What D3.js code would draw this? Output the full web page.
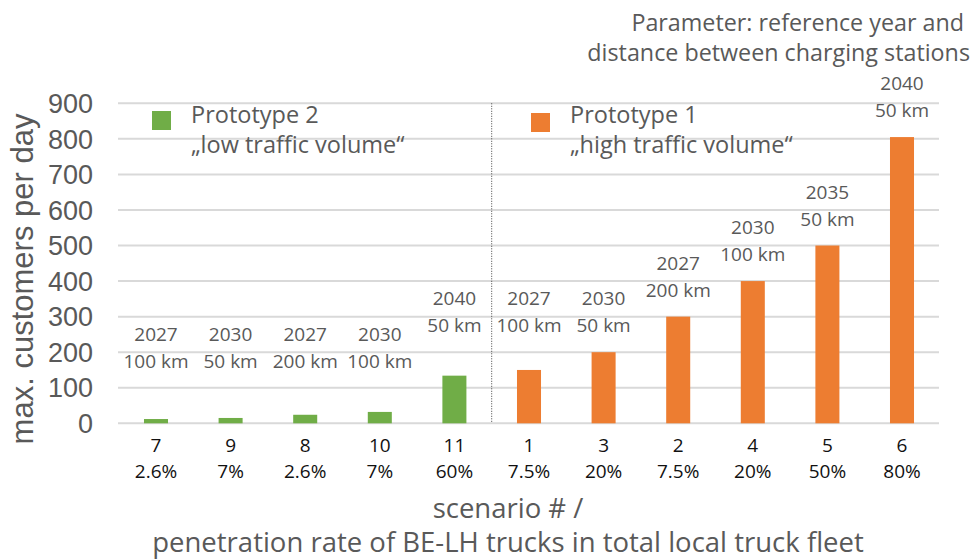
<!DOCTYPE html>
<html>
<head>
<meta charset="utf-8">
<script src="https://cdn.jsdelivr.net/npm/d3@7"></script>
<style>
  body { margin: 0; background: #fff; }
  svg { display: block; }
  .lbl { font-family: "Open Sans", sans-serif; fill: #595959; }
  .arial { font-family: "Liberation Sans", Arial, sans-serif; fill: #595959; }
</style>
</head>
<body>
<svg id="chart" width="977" height="560"></svg>
<script>
const scenarios = ['7', '9', '8', '10', '11', '1', '3', '2', '4', '5', '6'];
const penetration = ['2.6%', '7%', '2.6%', '7%', '60%', '7.5%', '20%', '7.5%', '20%', '50%', '80%'];
const refYears = ['2027', '2030', '2027', '2030', '2040', '2027', '2030', '2027', '2030', '2035', '2040'];
const distances = ['100 km', '50 km', '200 km', '100 km', '50 km', '100 km', '50 km', '200 km', '100 km', '50 km', '50 km'];
const customers = [12, 15, 24, 32, 134, 150, 200, 300, 400, 500, 805];
const prototypes = [2, 2, 2, 2, 2, 1, 1, 1, 1, 1, 1];
const yTicks = [0, 100, 200, 300, 400, 500, 600, 700, 800, 900];

const colors = { 1: '#ed7d31', 2: '#70ad47' };
const legends = [
    { proto: 2, lines: ['Prototype 2', '\u201Elow traffic volume\u201C'] },
    { proto: 1, lines: ['Prototype 1', '\u201Ehigh traffic volume\u201C'] }
];

const svg = d3.select('#chart');

const x = d3.scaleBand()
    .domain(scenarios)
    .range([118.7, 939.3])
    .paddingInner(0.678)
    .paddingOuter(0.339);

const y = d3.scaleLinear()
    .domain([0, 900])
    .range([423.3, 103.3]);

// Gridlines
svg.append('g')
    .selectAll('line')
    .data(yTicks)
    .join('line')
    .attr('x1', 118)
    .attr('x2', 939)
    .attr('y1', d => y(d))
    .attr('y2', d => y(d))
    .attr('stroke', '#d9d9d9')
    .attr('stroke-width', 2);

// Y tick labels
svg.append('g')
    .selectAll('text')
    .data(yTicks)
    .join('text')
    .classed('arial', true)
    .attr('x', 93)
    .attr('y', d => y(d))
    .attr('dy', '0.36em')
    .attr('text-anchor', 'end')
    .attr('font-size', 27)
    .text(d => d);

// Y axis title
svg.append('text')
    .classed('arial', true)
    .attr('transform', 'translate(33,279) rotate(-90)')
    .attr('text-anchor', 'middle')
    .attr('font-size', 31)
    .text('max. customers per day');

// Separator between the two prototypes
const sepX = (x('11') + x.bandwidth() + x('1')) / 2;
svg.append('line')
    .attr('x1', sepX)
    .attr('x2', sepX)
    .attr('y1', y(900))
    .attr('y2', y(0))
    .attr('stroke', '#404040')
    .attr('stroke-width', 1)
    .attr('stroke-dasharray', '1,1.5');

// Bars
svg.append('g')
    .selectAll('rect')
    .data(scenarios)
    .join('rect')
    .attr('x', d => x(d))
    .attr('width', x.bandwidth())
    .attr('y', (d, i) => y(customers[i]))
    .attr('height', (d, i) => y(0) - y(customers[i]))
    .attr('fill', (d, i) => colors[prototypes[i]]);

// Bar annotations: year + distance, lifted to a common row for small bars
const labelFloor = i => (i < 4 ? 100 : 200);
const annot = svg.append('g')
    .selectAll('g')
    .data(scenarios)
    .join('g')
    .attr('transform', (d, i) => {
        const base = y(Math.max(customers[i], labelFloor(i))) - 20;
        return `translate(${x(d) + x.bandwidth() / 2},${base})`;
    });

annot.append('text')
    .classed('lbl', true)
    .attr('text-anchor', 'middle')
    .attr('font-size', 19)
    .attr('y', -27)
    .text((d, i) => refYears[i]);

annot.append('text')
    .classed('lbl', true)
    .attr('text-anchor', 'middle')
    .attr('font-size', 19)
    .attr('y', 0)
    .text((d, i) => distances[i]);

// X tick labels
const ticks = svg.append('g')
    .selectAll('g')
    .data(scenarios)
    .join('g')
    .attr('transform', d => `translate(${x(d) + x.bandwidth() / 2},0)`);

ticks.append('text')
    .attr('font-family', '"Open Sans", sans-serif')
    .attr('font-size', 19)
    .attr('fill', '#111')
    .attr('text-anchor', 'middle')
    .attr('y', 451.5)
    .text(d => d);

ticks.append('text')
    .attr('font-family', '"Open Sans", sans-serif')
    .attr('font-size', 19)
    .attr('fill', '#111')
    .attr('text-anchor', 'middle')
    .attr('y', 477.5)
    .text((d, i) => penetration[i]);

// X axis title
svg.append('text')
    .classed('lbl', true)
    .attr('x', 508)
    .attr('y', 518)
    .attr('text-anchor', 'middle')
    .attr('font-size', 27.5)
    .text('scenario # /');

svg.append('text')
    .classed('lbl', true)
    .attr('x', 508)
    .attr('y', 552)
    .attr('text-anchor', 'middle')
    .attr('font-size', 27.5)
    .text('penetration rate of BE-LH trucks in total local truck fleet');

// Legends (one per prototype)
const legendPos = { 2: [152, 111], 1: [531, 113] };
legends.forEach(lg => {
    const [lx, ly] = legendPos[lg.proto];
    svg.append('rect')
        .attr('x', lx)
        .attr('y', ly)
        .attr('width', 19)
        .attr('height', 19)
        .attr('fill', colors[lg.proto]);
    lg.lines.forEach((t, k) => {
        svg.append('text')
            .classed('lbl', true)
            .attr('x', lx + 39)
            .attr('y', 123 + k * 30)
            .attr('font-size', 23.5)
            .text(t);
    });
});

// Parameter note (top right)
svg.append('text')
    .classed('lbl', true)
    .attr('x', 964)
    .attr('y', 31)
    .attr('text-anchor', 'end')
    .attr('font-size', 23.3)
    .text('Parameter: reference year and');

svg.append('text')
    .classed('lbl', true)
    .attr('x', 970)
    .attr('y', 61)
    .attr('text-anchor', 'end')
    .attr('font-size', 23.3)
    .text('distance between charging stations');
</script>
</body>
</html>
